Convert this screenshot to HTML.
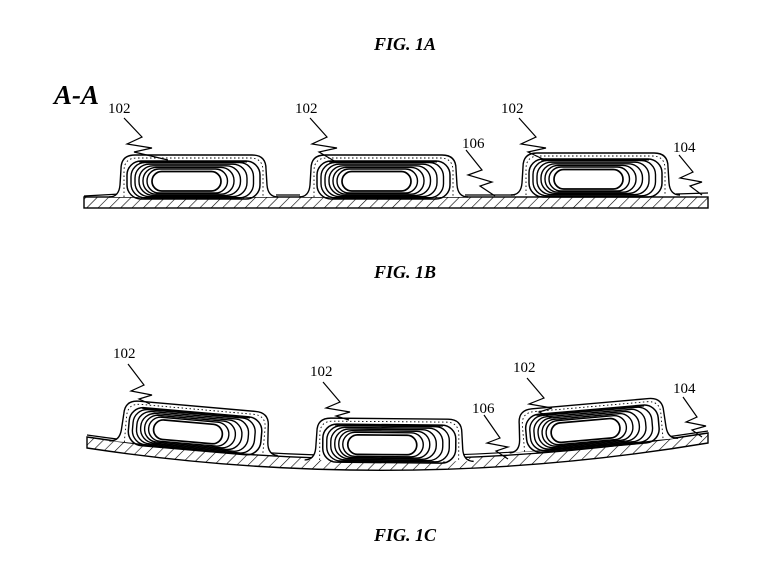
<!DOCTYPE html>
<html><head><meta charset="utf-8"><style>
html,body{margin:0;padding:0;background:#fff;}
svg{display:block;}
.t{font-family:"Liberation Serif",serif;font-weight:bold;font-style:italic;font-size:18px;}
.l{font-family:"Liberation Serif",serif;font-size:15px;}
</style></head><body>
<svg width="770" height="578" viewBox="0 0 770 578" xmlns="http://www.w3.org/2000/svg">
<defs>
<pattern id="h" width="8" height="8" patternUnits="userSpaceOnUse" patternTransform="rotate(45)">
<line x1="0" y1="0" x2="0" y2="8" stroke="#000" stroke-width="1.2"/>
</pattern>
<g id="cell" fill="none" stroke="#000">
<path d="M-12,42 Q-2,42 -1,30 L0,14 Q0,0 14,0 L131,0 Q145,0 145,14 L146,30 Q147,42 157,42" stroke-width="1.4" fill="#fff"/>
<path d="M3,42 L3,16 Q3,3 16,3 L129,3 Q142,3 142,16 L142,42" stroke-width="0.9" stroke-dasharray="1.5 2.5"/>
<rect x="6" y="6" width="133" height="38" rx="14" stroke-width="1.5"/>
<rect x="10" y="7.6" width="122.5" height="35.2" rx="14" stroke-width="1.4"/>
<rect x="14" y="9.2" width="112" height="32.4" rx="14" stroke-width="1.4"/>
<rect x="18" y="10.8" width="101.5" height="29.6" rx="14" stroke-width="1.4"/>
<rect x="22" y="12.4" width="91" height="26.8" rx="13" stroke-width="1.4"/>
<rect x="26" y="14" width="80.5" height="24" rx="12" stroke-width="1.4"/>
<rect x="31" y="16.5" width="69" height="19.5" rx="9.75" stroke-width="1.7"/>
<line x1="18" y1="7" x2="126" y2="7" stroke-width="1"/>
</g>
</defs>

<text class="t" x="405" y="50" text-anchor="middle">FIG. 1A</text>
<text x="54" y="104" style="font-family:'Liberation Serif',serif;font-weight:bold;font-style:italic;font-size:27px">A-A</text>

<!-- Fig 1B -->
<rect x="84" y="197" width="624" height="11" fill="url(#h)" stroke="#000" stroke-width="1.4"/>
<path d="M84,196 L120,194 M276,195 L300,195 M465,195 L515,195 M676,194 L708,193" stroke="#000" stroke-width="1.2" fill="none"/>
<use href="#cell" transform="translate(121,155)"/>
<use href="#cell" transform="translate(311,155)"/>
<use href="#cell" transform="translate(523,153)"/>

<g fill="none" stroke="#000" stroke-width="1.2">
<path d="M124,118 L142,137 L127,144 L152,148 L134,152 L168,160"/>
<path d="M310,118 L327,137 L312,144 L337,148 L319,152 L336,162"/>
<path d="M519,118 L536,137 L521,144 L546,148 L528,152 L545,160"/>
<path d="M466,150 L482,170 L468,175 L492,182 L480,186 L495,196"/>
<path d="M679,155 L693,172 L680,178 L702,182 L690,186 L702,195"/>
</g>
<text class="l" x="108" y="113">102</text>
<text class="l" x="295" y="113">102</text>
<text class="l" x="501" y="113">102</text>
<text class="l" x="462" y="148">106</text>
<text class="l" x="673" y="152">104</text>

<text class="t" x="405" y="278" text-anchor="middle">FIG. 1B</text>

<!-- Fig 1C -->
<path d="M87,437 Q397,483 708,433 L708,443 Q397,495 87,448 Z" fill="url(#h)" stroke="#000" stroke-width="1.4"/>
<path d="M87,435 Q397,479 708,431" stroke="#000" stroke-width="1.2" fill="none"/>
<use href="#cell" transform="translate(125,400) rotate(5)"/>
<use href="#cell" transform="translate(317,418) rotate(0.5)"/>
<use href="#cell" transform="translate(518,410) rotate(-5)"/>

<g fill="none" stroke="#000" stroke-width="1.2">
<path d="M128,364 L144,385 L131,391 L152,395 L139,399 L150,404"/>
<path d="M323,382 L340,402 L326,408 L350,412 L336,416 L349,420"/>
<path d="M527,378 L544,398 L529,404 L552,408 L539,412 L552,418"/>
<path d="M484,415 L500,438 L487,443 L508,447 L496,451 L508,459"/>
<path d="M683,397 L697,417 L686,422 L706,426 L692,430 L702,437"/>
</g>
<text class="l" x="113" y="358">102</text>
<text class="l" x="310" y="376">102</text>
<text class="l" x="513" y="372">102</text>
<text class="l" x="472" y="413">106</text>
<text class="l" x="673" y="393">104</text>

<text class="t" x="405" y="541" text-anchor="middle">FIG. 1C</text>
</svg>
</body></html>
